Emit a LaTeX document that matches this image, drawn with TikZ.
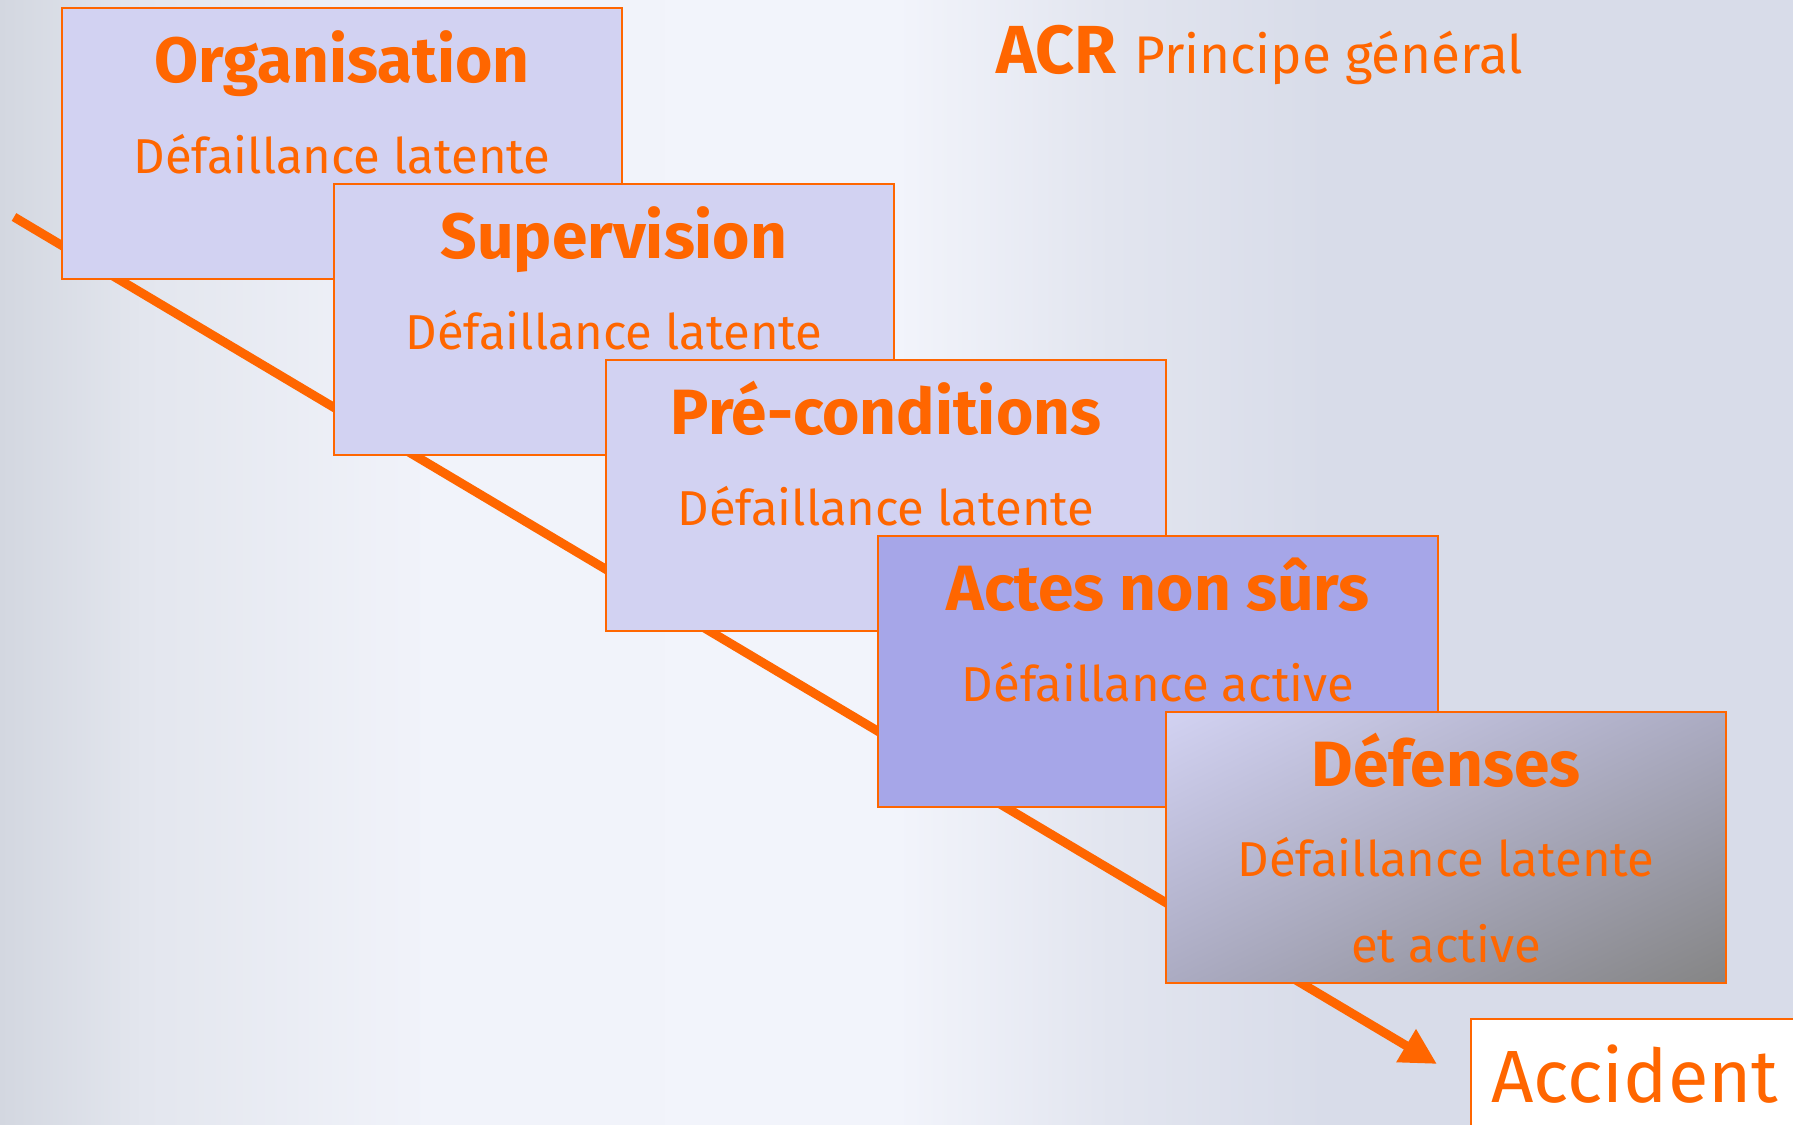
\documentclass[tikz,border=0pt]{standalone}
\usepackage{fontspec}
\setmainfont{Fira Sans}
\usetikzlibrary{arrows.meta,calc,shadings}
\definecolor{orng}{HTML}{FF6600}
\definecolor{lav}{HTML}{D2D2F2}
\definecolor{lavdark}{HTML}{A6A6E8}
\definecolor{grayend}{HTML}{858585}
\definecolor{graymid}{HTML}{ABABC2}
\definecolor{bgA}{HTML}{D3D7E0}
\definecolor{bgB}{HTML}{E3E6EE}
\definecolor{bgC}{HTML}{F1F3FA}
\definecolor{bgD}{HTML}{F2F4FB}
\definecolor{bgE}{HTML}{E2E5EF}
\definecolor{bgF}{HTML}{D8DCE9}
\pgfdeclarehorizontalshading{bgshade}{100bp}{color(0bp)=(bgA); color(25bp)=(bgA); color(29bp)=(bgB); color(37bp)=(bgC); color(50bp)=(bgD); color(56bp)=(bgE); color(62bp)=(bgF); color(75bp)=(bgF); color(100bp)=(bgF)}
\begin{document}
\begin{tikzpicture}[x=1pt,y=-1pt,
  box/.style={draw=orng,line width=2pt,fill=lav,minimum width=560pt,minimum height=271pt,anchor=north west,inner sep=0pt,outer sep=0pt},
  ttl/.style={text=orng,font=\bfseries\fontsize{64}{76}\selectfont,anchor=base,inner sep=0pt},
  sub/.style={text=orng,font=\fontsize{49}{58}\selectfont,anchor=base,inner sep=0pt},
  flow/.style={draw=orng,line width=9pt,-{Triangle[length=36pt,width=36pt]}}]
\useasboundingbox (0,0) rectangle (1793,1124);
% background
\shade[shading=bgshade] (0,0) rectangle (1793,1124);
% title
\node[text=orng,font=\bfseries\fontsize{68}{80}\selectfont,anchor=base west,inner sep=0pt] (acr) at (996,74) {ACR};
\node[text=orng,font=\fontsize{53}{64}\selectfont,anchor=base west,inner sep=0pt] (princ) at (1134,74) {Principe général};
% flow line
\coordinate (start) at (14,217);
\coordinate (tip) at (1437,1064);
\draw[flow] (start) -- (tip);
% boxes
\node[box] (b1) at (62,8) {};
\node[ttl] (t1) at ($(b1.north)+(0,74)$) {Organisation};
\node[sub] (s1) at ($(b1.north)+(0,165)$) {Défaillance latente};
\node[box] (b2) at (334,184) {};
\node[ttl] (t2) at ($(b2.north)+(0,74)$) {Supervision};
\node[sub] (s2) at ($(b2.north)+(0,165)$) {Défaillance latente};
\node[box] (b3) at (606,360) {};
\node[ttl] (t3) at ($(b3.north)+(0,74)$) {Pré-conditions};
\node[sub] (s3) at ($(b3.north)+(0,165)$) {Défaillance latente};
\node[box,fill=lavdark] (b4) at (878,536) {};
\node[ttl] (t4) at ($(b4.north)+(0,74)$) {Actes non sûrs};
\node[sub] (s4) at ($(b4.north)+(0,165)$) {Défaillance active};
\node[box,fill=none,draw=none] (b5) at (1166,712) {};
\shade[upper left=lav,upper right=graymid,lower left=graymid,lower right=grayend] (b5.north west) rectangle (b5.south east);
\draw[orng,line width=2pt] (b5.north west) rectangle (b5.south east);
\node[ttl] (t5) at ($(b5.north)+(0,74)$) {Défenses};
\node[sub] (s5) at ($(b5.north)+(0,164)$) {Défaillance latente};
\node[sub] (s5b) at ($(b5.north)+(0,250)$) {et active};
% accident
\node[draw=orng,line width=2pt,fill=white,anchor=north west,minimum width=400pt,minimum height=200pt,inner sep=0pt] (acc) at (1470,1018) {};
\node[text=orng,font=\fontsize{74}{88}\selectfont,anchor=base west,inner sep=0pt] (acct) at (1491,1102) {Accident};
\end{tikzpicture}
\end{document}
